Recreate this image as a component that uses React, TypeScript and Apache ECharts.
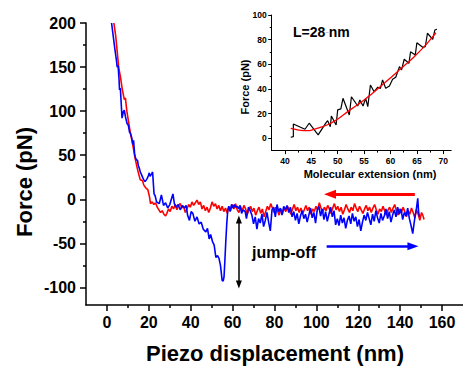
import React, { useEffect, useRef } from "react";
import * as echarts from "echarts";

// ---- Main plot data (Piezo displacement nm, Force pN) ----
const redCurve: number[][] = [
  [3.3,200],[4.2,185],[5,165],[5.6,150],[6.5,138],[7.3,125],[8.3,113],[8.8,115],[9.5,100],[10.3,88],[11.2,75],[12,66],[12.6,58],[13.3,48],[14.3,37],[15,30],[15.9,22],[17,21],[17.6,16],[18.5,13],[19.5,11],[20.3,3],
  [20.8,-5],[21.6,-3],[22.4,-6],[23.2,-4],[24,-9],[24.8,-12],[25.6,-15],[26.4,-13],[27.2,-17],[28,-19],[28.6,-16],[29.4,-11],[30.2,-14],[31,-8],[31.8,-11],[32.6,-6],[33.4,-12],[34.2,-7],[35,-5],[35.8,-10],[36.6,-8],[37.4,-15],[38.2,-11],[39,-6],[39.8,-9],[40.6,-3],[41.4,-7],[42.2,-4],[43,-1],[43.8,-6],[44.6,-3],[45.4,-11],[46.2,-7],[47,-13],[47.8,-9],[48.6,-15],[49.4,-10],[50.2,-3],[51,-8],[51.8,-5],[52.6,-11],[53.4,-7],[54.2,-13],[55,-8],[55.8,-14],[56.6,-10],[57.4,-16],[58.2,-9],[59,-13],[59.8,-6],[60.6,-11],[61.4,-5],[62.2,-12],[63,-15],[63.8,-9],[64.6,-13],[65.4,-7],[66.2,-11],[67,-17],[67.8,-12],[68.6,-8],[69.4,-14],[70.2,-10],[71,-18],[71.8,-13],[72.6,-9],[73.4,-16],[74.2,-11],[75,-20],[75.8,-14],[76.6,-8],[77.4,-12],[78.2,-5],[79,-10],[79.8,-15],[80.6,-9],[81.4,-13],[82.2,-18],[83,-11],[83.8,-16],[84.6,-10],[85.4,-14],[86.2,-8],[87,-12],[87.8,-17],[88.6,-11],[89.4,-6],[90.2,-13],[91,-9],[91.8,-15],[92.6,-10],[93.4,-16],[94.2,-12],[95,-7],[95.8,-13],[96.6,-9],[97.4,-17],[98.2,-11],[99,-14],[99.8,-8],[100.6,-12],[101.4,-4],[102.2,-10],[103,-15],[103.8,-9],[104.6,-13],[105.4,-7],[106.2,-11],[107,-16],[107.8,-10],[108.6,-5],[109.4,-12],[110.2,-8],[111,-14],[111.8,-9],[112.6,-17],[113.4,-12],[114.2,-6],[115,-11],[115.8,-15],[116.6,-9],[117.4,-13],[118.2,-5],[119,-10],[119.8,-14],[120.6,-8],[121.4,-12],[122.2,-16],[123,-11],[123.8,-7],[124.6,-13],[125.4,-9],[126.2,-15],[127,-10],[127.8,-6],[128.6,-12],[129.4,-17],[130.2,-11],[131,-14],[131.8,-8],[132.6,-13],[133.4,-18],[134.2,-12],[135,-9],[135.8,-15],[136.6,-10],[137.4,-6],[138.2,-13],[139,-18],[139.8,-11],[140.6,-15],[141.4,-9],[142.2,-14],[143,-20],[143.8,-13],[144.6,-17],[145.4,-10],[146.2,-15],[147,-21],[147.8,-12],[148.6,-17],[149.4,-24],[150.2,-15],[150.8,-18],[151.4,-23]
];

const blueCurve: number[][] = [
  [2.2,200],[3,185],[3.8,170],[4.5,158],[4.9,150],[5.3,152],[5.8,135],[6,124],[6.4,126],[6.9,105],[7.2,92],[7.8,99],[8.3,101],[8.8,94],[9.6,86],[10.2,84],[10.8,76],[11.2,75],[11.8,70],[12.4,62],[12.7,67],[13.2,52],[13.5,48],[14,45],[14.6,44],[15,38],[15.5,35],[15.9,31],[16.5,28],[17.2,24],[17.6,22],[18.2,20],[18.8,22],[19.3,24],[19.8,27],[20.2,30],[20.6,26],[21.4,29],[21.8,31],[22.1,20],[22.5,6],[23,4],[23.7,-3],
  [24.3,-4],[25,-5],[26,5],[27,-7],[28,-4],[29,-10],[30,-6],[31.5,6],[32.2,-5],[33,-9],[34,-6],[35,-12],[36,-7],[37,-10],[37.8,-7],[38.5,-18],[39.4,-24],[40.2,-14],[41,-16],[42,-25],[43,-20],[44,-28],[45,-26],[46,-34],[47.2,-37],[48,-33],[48.8,-45],[49.5,-40],[50.4,-48],[51.2,-52],[52,-66],[52.8,-64],[53.5,-67],[54.2,-75],[55,-92],[55.5,-93],[55.9,-88],[56.3,-70],[56.7,-50],[57.2,-28],[57.7,-12],[58.2,-8],[58.8,-14],[59.5,-6],[60.3,-10],[60.8,-6],[61.5,-9],[62.3,-8],[62.9,-11],[63.6,-7],[64.3,-16],[65,-12],[66,-14],[66.6,-22],[67.6,-9],[68.4,-13],[69.2,-18],[70,-28],[70.8,-20],[71.6,-34],[72.4,-22],[73.2,-27],[74,-17],[74.8,-31],[75.6,-24],[76.4,-15],[77.2,-26],[78,-36],[78.8,-12],[79.6,-9],[80.4,-20],[81.2,-6],[82,-14],[82.8,-10],[83.6,-18],[84.4,-8],[85.2,-12],[86,-7],[86.8,-15],[87.6,-9],[88.4,-20],[89.2,-14],[90,-24],[90.8,-16],[91.6,-28],[92.4,-19],[93.2,-13],[94,-22],[94.8,-17],[95.6,-26],[96.4,-18],[97.2,-10],[98,-21],[98.8,-15],[99.6,-27],[100.4,-12],[101.2,-8],[102,-19],[102.8,-11],[103.6,-23],[104.4,-14],[105.2,-25],[106,-17],[106.8,-9],[107.6,-20],[108.4,-13],[109.2,-29],[110,-22],[110.8,-30],[111.6,-18],[112.4,-27],[113.2,-21],[114,-33],[114.8,-24],[115.6,-19],[116.4,-28],[117.2,-16],[118,-25],[118.8,-20],[119.6,-31],[120.4,-23],[121.2,-36],[122,-26],[122.8,-18],[123.6,-24],[124.4,-15],[125.2,-22],[126,-29],[126.8,-17],[127.6,-25],[128.4,-13],[129.2,-21],[130,-27],[130.8,-16],[131.6,-24],[132.4,-19],[133.2,-11],[134,-22],[134.8,-14],[135.6,-26],[136.4,-18],[137.2,-12],[138,-20],[138.8,-9],[139.6,-17],[140.4,-11],[141.2,-23],[142,-15],[142.8,-19],[143.6,-10],[144.4,-22],[145.2,-30],[146,-39],[146.6,-28],[147.2,-18],[147.8,-10],[148.4,1],[148.8,-14],[149.2,-20]
];

// ---- Inset data (Molecular extension nm, Force pN) ----
const insetData: number[][] = [
  [41.1,0.8],[41.6,1.3],[41.6,11.6],[43.8,7.3],[44.6,12.2],[46.3,2.7],[47.8,12.7],[48.1,14.3],[48.6,9.4],[48.8,18.1],[49.7,10.8],[50,23],[50.6,23.8],[51,32.4],[52.2,18.9],[52.6,33.7],[53.8,26.2],[54.2,31],[54.8,26.2],[55.3,32.4],[55.7,25.6],[56.2,43.2],[56.9,37.8],[57.6,41.4],[58.1,40.5],[58.5,47.3],[59.1,40.5],[59.8,42.4],[60.4,47.8],[61,49.5],[61.7,58.1],[62.1,55.4],[62.6,64.1],[63.5,60.8],[63.8,70.2],[64.7,67.6],[65,77.5],[66.1,73.8],[66.6,74.3],[67,85.2],[68,80.3],[68.4,87.8],[68.8,88.4]
];
const insetFit: number[][] = [
  [41.1,8.1],[42,7.2],[43,6.4],[44.3,6.2],[45.5,7.2],[47,9.2],[48.7,12.2],[50.3,16.5],[51.9,21.6],[53.5,26.4],[55,31],[56.6,36.6],[58.2,42.4],[59.8,48.2],[61.3,54],[62.9,60],[64.5,66.2],[66.2,73.5],[67.5,79.8],[68.6,85.6]
];

// tick values
const mainXTicks = [0, 20, 40, 60, 80, 100, 120, 140, 160];
const mainXMinor = [10, 30, 50, 70, 90, 110, 130, 150];
const mainYTicks = [-100, -50, 0, 50, 100, 150, 200];
const mainYMinor = [-75, -25, 25, 75, 125, 175];
const insetXTicks = [40, 45, 50, 55, 60, 65, 70];
const insetXMinor = [42.5, 47.5, 52.5, 57.5, 62.5, 67.5];
const insetYTicks = [0, 20, 40, 60, 80, 100];
const insetYMinor = [10, 30, 50, 70, 90];

const FONT = "'Liberation Sans', Arial, sans-serif";

export default function App() {
  const ref = useRef<HTMLDivElement>(null);
  useEffect(() => {
    const chart = echarts.init(ref.current!, null, { renderer: "svg" });
    const lblMain = { fontFamily: FONT, fontWeight: "bold", fontSize: 16, color: "#000" };
    const lblInset = { fontFamily: FONT, fontWeight: "bold", fontSize: 8.5, color: "#000" };
    const majorAxis = (pos: string, min: number, max: number, grid: number, ticks: number[], lbl: any, len: number, margin: number, lw: number) => ({
      type: "value", gridIndex: grid, min, max, position: pos,
      axisLine: { show: true, onZero: false, lineStyle: { color: "#000", width: lw } },
      axisTick: { show: true, inside: false, length: len, customValues: ticks, lineStyle: { color: "#000", width: lw } },
      axisLabel: { show: true, customValues: ticks, margin, ...lbl },
      splitLine: { show: false },
    });
    const minorAxis = (pos: string, min: number, max: number, grid: number, ticks: number[], len: number, lw: number) => ({
      type: "value", gridIndex: grid, min, max, position: pos,
      axisLine: { show: false, onZero: false },
      axisTick: { show: true, inside: false, length: len, customValues: ticks, lineStyle: { color: "#000", width: lw } },
      axisLabel: { show: false, customValues: ticks },
      splitLine: { show: false },
    });
    const option: any = {
      animation: false,
      backgroundColor: "#fff",
      grid: [
        { left: 86, top: 23, width: 382.5, height: 282, containLabel: false },
        { left: 271.7, top: 15, width: 179.5, height: 135.6, containLabel: false },
      ],
      xAxis: [
        majorAxis("bottom", -10, 170, 0, mainXTicks, lblMain, 6, 9, 1.5),
        minorAxis("bottom", -10, 170, 0, mainXMinor, 3, 1.5),
        majorAxis("bottom", 37.5, 71.5, 1, insetXTicks, lblInset, 3.5, 6, 1),
        minorAxis("bottom", 37.5, 71.5, 1, insetXMinor, 2, 1),
      ],
      yAxis: [
        majorAxis("left", -120, 200, 0, mainYTicks, lblMain, 6, 10, 1.5),
        minorAxis("left", -120, 200, 0, mainYMinor, 3, 1.5),
        majorAxis("left", -10, 100, 1, insetYTicks, lblInset, 3.5, 5, 1),
        minorAxis("left", -10, 100, 1, insetYMinor, 2, 1),
      ],
      series: [
        {
          type: "line", xAxisIndex: 0, yAxisIndex: 0, data: redCurve, showSymbol: false, symbol: "none",
          lineStyle: { color: "#ff0000", width: 1.6 }, silent: true, z: 2,
          markLine: {
            silent: true, animation: false, label: { show: false },
            data: [
              [
                { coord: [147, 5.7], symbol: "none", lineStyle: { color: "#ff0000", width: 3, type: "solid" } },
                { coord: [106.5, 5.7], symbol: "triangle", symbolSize: [9, 12], symbolRotate: 90 },
              ],
            ],
          },
        },
        {
          type: "line", xAxisIndex: 0, yAxisIndex: 0, data: blueCurve, showSymbol: false, symbol: "none",
          lineStyle: { color: "#0000ff", width: 1.6 }, silent: true, z: 3,
          markLine: {
            silent: true, animation: false, label: { show: false },
            data: [
              [
                { coord: [104.9, -53.4], symbol: "none", lineStyle: { color: "#0000ff", width: 2.5, type: "solid" } },
                { coord: [146.1, -53.4], symbol: "triangle", symbolSize: [8, 11], symbolRotate: -90 },
              ],
              [
                { coord: [63, -23], symbol: "triangle", symbolSize: [6, 8], lineStyle: { color: "#000", width: 1.5, type: "solid" } },
                { coord: [63, -96.6], symbol: "triangle", symbolSize: [6, 8] },
              ],
            ],
          },
        },
        {
          type: "line", xAxisIndex: 2, yAxisIndex: 2, data: insetData, showSymbol: false, symbol: "none",
          lineStyle: { color: "#000", width: 1.2 }, silent: true,
        },
        {
          type: "line", xAxisIndex: 2, yAxisIndex: 2, data: insetFit, showSymbol: false, symbol: "none", smooth: true,
          lineStyle: { color: "#ff0000", width: 1.3 }, silent: true, z: 3,
        },
      ],
      graphic: [
        {
          type: "text", x: 24, y: 182, rotation: Math.PI / 2,
          style: { text: "Force (pN)", font: `bold 22px ${FONT}`, fill: "#000", align: "center", verticalAlign: "middle" },
        },
        {
          type: "text", x: 275, y: 353,
          style: { text: "Piezo displacement (nm)", font: `bold 22px ${FONT}`, fill: "#000", align: "center", verticalAlign: "middle" },
        },
        {
          type: "text", x: 245, y: 87, rotation: Math.PI / 2,
          style: { text: "Force (pN)", font: `bold 11px ${FONT}`, fill: "#000", align: "center", verticalAlign: "middle" },
        },
        {
          type: "text", x: 370, y: 174,
          style: { text: "Molecular extension (nm)", font: `bold 11px ${FONT}`, fill: "#000", align: "center", verticalAlign: "middle" },
        },
        {
          type: "text", x: 293, y: 32,
          style: {
            text: "{a|L=28}{b|~}{a|nm}",
            rich: {
              a: { fontFamily: FONT, fontWeight: "bold", fontSize: 14, fill: "#000", color: "#000" },
              b: { fontFamily: FONT, fontSize: 6, color: "#999", fill: "#999" },
            },
            verticalAlign: "middle",
          },
        },
        {
          type: "text", x: 252, y: 252,
          style: { text: "jump-off", font: `bold 16px ${FONT}`, fill: "#000", align: "left", verticalAlign: "middle" },
        },
      ],
    };
    chart.setOption(option);
    return () => chart.dispose();
  }, []);
  return (
    <div
      ref={ref}
      style={{ position: "fixed", left: 0, top: 0, width: 463, height: 367, background: "#fff" }}
    />
  );
}
